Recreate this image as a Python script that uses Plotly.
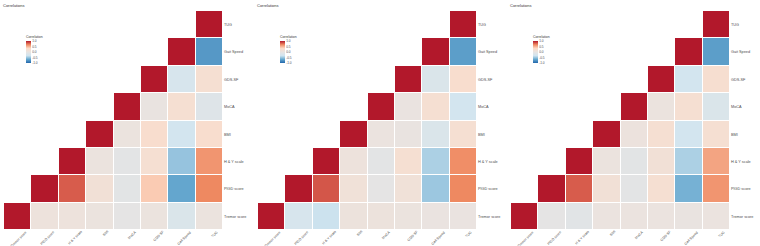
import plotly.graph_objects as go

variables = ["Tremor score", "PIGD score", "H & Y scale", "BMI", "MoCA", "GDS-SF", "Gait Speed", "TUG"]

# upper triangle values, row i (bottom=Tremor) lists correlations with columns i..7
panel1_rows = [
    [1.0, 0.08, 0.08, 0.05, -0.05, 0.05, -0.20, 0.05],
    [1.0, 0.80, 0.15, -0.08, 0.40, -0.68, 0.67],
    [1.0, 0.05, -0.07, 0.20, -0.52, 0.62],
    [1.0, 0.05, 0.25, -0.30, 0.25],
    [1.0, 0.02, 0.20, -0.15],
    [1.0, -0.25, 0.20],
    [1.0, -0.75],
    [1.0],
]
panel2_rows = [
    [1.0, -0.25, -0.35, 0.07, 0.07, 0.05, 0.03, 0.03],
    [1.0, 0.82, 0.12, -0.05, 0.12, -0.50, 0.67],
    [1.0, 0.08, -0.07, 0.20, -0.45, 0.65],
    [1.0, 0.04, 0.02, -0.20, 0.20],
    [1.0, 0.03, 0.20, -0.30],
    [1.0, -0.20, 0.25],
    [1.0, -0.72],
    [1.0],
]
panel3_rows = [
    [1.0, -0.05, -0.10, 0.04, 0.04, 0.04, 0.02, 0.04],
    [1.0, 0.80, 0.15, -0.07, 0.20, -0.62, 0.62],
    [1.0, 0.05, -0.08, 0.15, -0.45, 0.56],
    [1.0, 0.06, 0.20, -0.30, 0.20],
    [1.0, 0.05, 0.20, -0.20],
    [1.0, -0.30, 0.22],
    [1.0, -0.72],
    [1.0],
]
panels = [panel1_rows, panel2_rows, panel3_rows]

colorscale = [
    [0.0, "#2166AC"],
    [1/6, "#67A9CF"],
    [2/6, "#D1E5F0"],
    [0.5, "#E8E4E2"],
    [4/6, "#FDDBC7"],
    [5/6, "#EF8A62"],
    [1.0, "#B2182B"],
]

W, H = 760, 246
x_lefts = [4, 258, 511]
grid = 219
top = 11

fig = go.Figure()
FAM = "Liberation Sans, Arial, sans-serif"
lab_font = dict(family=FAM, size=3.8, color="#4d4d4d")
xlab_font = dict(family=FAM, size=3.5, color="#4d4d4d")

for k, rows in enumerate(panels):
    n = len(variables)
    z = [[None] * n for _ in range(n)]
    for i, r in enumerate(rows):
        for j, v in enumerate(r):
            z[i][i + j] = v
    xa = "x" if k == 0 else f"x{k+1}"
    ya = "y" if k == 0 else f"y{k+1}"
    fig.add_trace(go.Heatmap(
        z=z, x=variables, y=variables, xaxis=xa, yaxis=ya,
        zmin=-1, zmax=1, colorscale=colorscale, xgap=1, ygap=1,
        hoverongaps=False,
        colorbar=dict(
            x=(x_lefts[k] + 22) / W, xanchor="left", xpad=0, ypad=0,
            y=(H - 32) / H, yanchor="top",
            thickness=5, thicknessmode="pixels",
            len=31, lenmode="pixels",
            outlinewidth=0,
            tickvals=[1, 0.5, 0, -0.5, -1],
            ticktext=["1.0", "0.5", "0.0", "-0.5", "-1.0"],
            ticks="", tickfont=dict(family=FAM, size=3.2, color="#4d4d4d"),
            title=dict(text="Correlation", side="top",
                       font=dict(family=FAM, size=3.4, color="#333")),
        ),
    ))
    x0 = x_lefts[k] / W
    x1 = (x_lefts[k] + grid) / W
    y1 = (H - top) / H
    y0 = (H - top - grid) / H
    axname = "xaxis" if k == 0 else f"xaxis{k+1}"
    ayname = "yaxis" if k == 0 else f"yaxis{k+1}"
    fig.layout[axname] = dict(domain=[x0, x1], anchor=ya,
                              showgrid=False, zeroline=False, showline=False,
                              automargin=False, showticklabels=False,
                              ticks="", categoryorder="array",
                              categoryarray=variables)
    fig.layout[ayname] = dict(domain=[y0, y1], anchor=xa, side="right",
                              showgrid=False, zeroline=False, showline=False,
                              automargin=False,
                              ticks="", tickfont=lab_font, categoryorder="array",
                              categoryarray=variables)
    for ci, name in enumerate(variables):
        fig.add_annotation(text=name, xref=xa, yref="paper",
                           x=ci + 0.42, y=y0 + 1.5 / H,
                           xanchor="right", yanchor="top", textangle=-45,
                           showarrow=False, borderpad=0,
                           font=xlab_font)
    fig.add_annotation(text="Correlations", xref="paper", yref="paper",
                       x=(x_lefts[k] - 2) / W, y=(H - 2) / H, xanchor="left", yanchor="top",
                       showarrow=False, borderpad=0,
                       font=dict(family=FAM, size=4, color="#333"))

fig.update_layout(width=W, height=H,
                  margin=dict(l=0, r=0, t=0, b=0, autoexpand=False),
                  paper_bgcolor="white", plot_bgcolor="white", showlegend=False)

fig.write_html("out.html", config={"displayModeBar": False},
               post_script="document.body.style.margin='0';document.body.style.padding='0';")
